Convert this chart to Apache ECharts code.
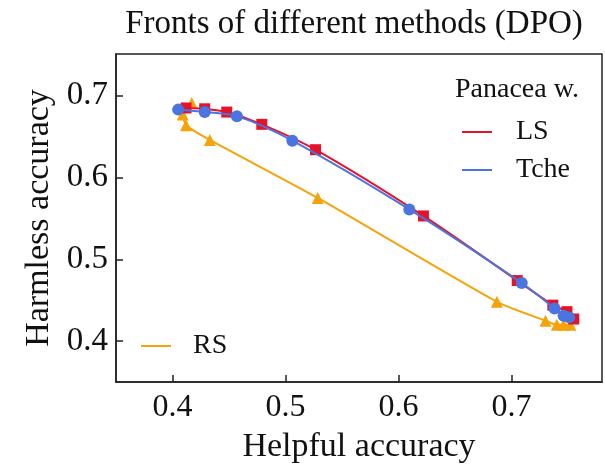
<!DOCTYPE html>
<html><head><meta charset="utf-8">
<script src="https://cdn.jsdelivr.net/npm/echarts@6/dist/echarts.min.js"></script>
<style>html,body{margin:0;padding:0;background:#fff}#c{width:605px;height:469px}</style>
</head><body><div id="c"></div>
<script>
const lsX = [0.412, 0.4285, 0.448, 0.479, 0.5265, 0.622, 0.705, 0.7365, 0.749, 0.755];
const lsY = [0.685, 0.684, 0.680, 0.665, 0.634, 0.553, 0.474, 0.444, 0.436, 0.427];
const tcheX = [0.405, 0.4285, 0.457, 0.506, 0.6095, 0.709, 0.738, 0.746, 0.751];
const tcheY = [0.683, 0.680, 0.675, 0.645, 0.561, 0.471, 0.440, 0.431, 0.429];
const rsX = [0.417, 0.409, 0.412, 0.433, 0.5285, 0.687, 0.730, 0.740, 0.746, 0.752];
const rsY = [0.691, 0.677, 0.664, 0.646, 0.575, 0.448, 0.425, 0.420, 0.420, 0.420];
const xTicks = [0.4, 0.5, 0.6, 0.7];
const yTicks = [0.4, 0.5, 0.6, 0.7];

const zip = (a, b) => a.map((v, i) => [v, b[i]]);
const F = 'Liberation Serif';
const chart = echarts.init(document.getElementById('c'));
chart.setOption({
  animation: false,
  title: { text: 'Fronts of different methods (DPO)', left: 349, top: 3, textAlign: 'center',
    textStyle: { fontFamily: F, fontSize: 33, fontWeight: 'normal', color: '#111' } },
  grid: { left: 116, top: 54, width: 486, height: 330, show: true, borderColor: '#222', borderWidth: 1.5 },
  xAxis: { type: 'value', min: 0.35, max: 0.78,
    name: 'Helpful accuracy', nameLocation: 'middle', nameGap: 48,
    nameTextStyle: { fontFamily: F, fontSize: 34, color: '#111' },
    splitLine: { show: false },
    axisLine: { lineStyle: { color: '#222', width: 1.5 } },
    axisTick: { inside: true, length: 7, customValues: xTicks, lineStyle: { color: '#222', width: 1.5 } },
    axisLabel: { customValues: xTicks, fontFamily: F, fontSize: 32, color: '#111', margin: 10,
      formatter: v => v.toFixed(1) } },
  yAxis: { type: 'value', min: 0.35, max: 0.751,
    name: 'Harmless accuracy', nameLocation: 'middle', nameGap: 59,
    nameTextStyle: { fontFamily: F, fontSize: 34, color: '#111' },
    splitLine: { show: false },
    axisLine: { lineStyle: { color: '#222', width: 1.5 } },
    axisTick: { inside: true, length: 7, customValues: yTicks, lineStyle: { color: '#222', width: 1.5 } },
    axisLabel: { customValues: yTicks, fontFamily: F, fontSize: 33, color: '#111', margin: 8,
      formatter: v => v.toFixed(1) } },
  graphic: [{ type: 'text', left: 455, top: 76,
    style: { text: 'Panacea w.', font: '28px "Liberation Serif"', fill: '#111' } }],
  legend: [
    { data: ['LS', 'Tche'], orient: 'vertical', left: 457, top: 113, itemGap: 10,
      icon: 'rect', itemWidth: 30, itemHeight: 2,
      textStyle: { fontFamily: F, fontSize: 28, color: '#111', padding: [0, 0, 0, 19] } },
    { data: ['RS'], orient: 'vertical', left: 136, top: 327,
      icon: 'rect', itemWidth: 30, itemHeight: 2,
      textStyle: { fontFamily: F, fontSize: 28, color: '#111', padding: [0, 0, 0, 17] } }
  ],
  series: [
    { name: 'RS', type: 'line', data: zip(rsX, rsY), smooth: 0.2, symbol: 'triangle', symbolSize: 12,
      color: '#F5A30B', lineStyle: { width: 2 }, z: 2 },
    { name: 'LS', type: 'line', data: zip(lsX, lsY), smooth: 0.3, symbol: 'rect', symbolSize: 11,
      color: '#E5132A', lineStyle: { width: 2 }, z: 3 },
    { name: 'Tche', type: 'line', data: zip(tcheX, tcheY), smooth: 0.3, symbol: 'circle', symbolSize: 12,
      color: '#4A74DF', lineStyle: { width: 2 }, z: 4 }
  ]
});
</script></body></html>
